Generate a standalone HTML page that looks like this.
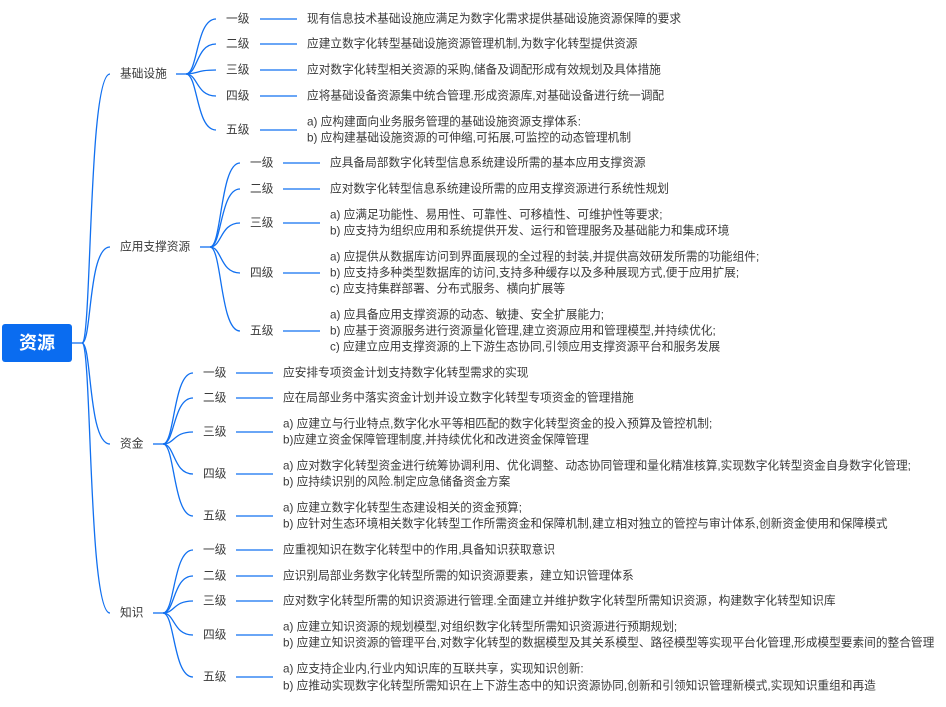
<!DOCTYPE html>
<html><head><meta charset="utf-8"><style>
html,body{margin:0;padding:0;background:#fff;}
svg{display:block;}
text{font-family:"Liberation Sans","Noto Sans CJK SC",sans-serif;font-size:11.7px;fill:#3a3a3a;dominant-baseline:central;}
.c{fill:none;stroke:#1170f0;stroke-width:1.3;}
</style></head><body>
<svg width="946" height="707" viewBox="0 0 946 707" xmlns="http://www.w3.org/2000/svg">
<rect x="2" y="324" width="70" height="38" rx="3" fill="#0a6cf0"/>
<text x="37" y="343" text-anchor="middle" style="fill:#fff;font-size:18px;font-weight:bold">资源</text>
<path class="c" d="M72 343H82"/>
<path class="c" d="M82 343C92 343 88 74 110 74"/>
<path class="c" d="M82 343C92 343 88 247 110 247"/>
<path class="c" d="M82 343C92 343 88 444 110 444"/>
<path class="c" d="M82 343C92 343 88 613 110 613"/>

<text x="120" y="74">基础设施</text>
<path class="c" d="M176 74H186"/>
<g class="c">
<path d="M186 74C198 74 196 19 216 19"/>
<path d="M186 74C198 74 196 44 216 44"/>
<path d="M186 74C198 74 196 70 216 70"/>
<path d="M186 74C198 74 196 96 216 96"/>
<path d="M186 74C198 74 196 130 216 130"/>
<path d="M260 19H297M260 44H297M260 70H297M260 96H297M260 130H297"/>
</g>
<text x="226" y="19">一级</text><text x="226" y="44">二级</text><text x="226" y="70">三级</text><text x="226" y="96">四级</text><text x="226" y="130">五级</text>
<text x="307" y="19">现有信息技术基础设施应满足为数字化需求提供基础设施资源保障的要求</text>
<text x="307" y="44">应建立数字化转型基础设施资源管理机制,为数字化转型提供资源</text>
<text x="307" y="70">应对数字化转型相关资源的采购,储备及调配形成有效规划及具体措施</text>
<text x="307" y="96">应将基础设备资源集中统合管理.形成资源库,对基础设备进行统一调配</text>
<text x="307" y="122">a) 应构建面向业务服务管理的基础设施资源支撑体系:</text>
<text x="307" y="138">b) 应构建基础设施资源的可伸缩,可拓展,可监控的动态管理机制</text>

<text x="120" y="247">应用支撑资源</text>
<path class="c" d="M200 247H210"/>
<g class="c">
<path d="M210 247C222 247 220 163 240 163"/>
<path d="M210 247C222 247 220 189 240 189"/>
<path d="M210 247C222 247 220 223 240 223"/>
<path d="M210 247C222 247 220 273 240 273"/>
<path d="M210 247C222 247 220 331 240 331"/>
<path d="M283 163H320M283 189H320M283 223H320M283 273H320M283 331H320"/>
</g>
<text x="250" y="163">一级</text><text x="250" y="189">二级</text><text x="250" y="223">三级</text><text x="250" y="273">四级</text><text x="250" y="331">五级</text>
<text x="330" y="163">应具备局部数字化转型信息系统建设所需的基本应用支撑资源</text>
<text x="330" y="189">应对数字化转型信息系统建设所需的应用支撑资源进行系统性规划</text>
<text x="330" y="215">a) 应满足功能性、易用性、可靠性、可移植性、可维护性等要求;</text>
<text x="330" y="231">b) 应支持为组织应用和系统提供开发、运行和管理服务及基础能力和集成环境</text>
<text x="330" y="257">a) 应提供从数据库访问到界面展现的全过程的封装,并提供高效研发所需的功能组件;</text>
<text x="330" y="273">b) 应支持多种类型数据库的访问,支持多种缓存以及多种展现方式,便于应用扩展;</text>
<text x="330" y="289">c) 应支持集群部署、分布式服务、横向扩展等</text>
<text x="330" y="315">a) 应具备应用支撑资源的动态、敏捷、安全扩展能力;</text>
<text x="330" y="331">b) 应基于资源服务进行资源量化管理,建立资源应用和管理模型,并持续优化;</text>
<text x="330" y="347">c) 应建立应用支撑资源的上下游生态协同,引领应用支撑资源平台和服务发展</text>

<text x="120" y="444">资金</text>
<path class="c" d="M153 444H163"/>
<g class="c">
<path d="M163 444C175 444 173 373 193 373"/>
<path d="M163 444C175 444 173 398 193 398"/>
<path d="M163 444C175 444 173 432 193 432"/>
<path d="M163 444C175 444 173 474 193 474"/>
<path d="M163 444C175 444 173 516 193 516"/>
<path d="M236 373H273M236 398H273M236 432H273M236 474H273M236 516H273"/>
</g>
<text x="203" y="373">一级</text><text x="203" y="398">二级</text><text x="203" y="432">三级</text><text x="203" y="474">四级</text><text x="203" y="516">五级</text>
<text x="283" y="373">应安排专项资金计划支持数字化转型需求的实现</text>
<text x="283" y="398">应在局部业务中落实资金计划并设立数字化转型专项资金的管理措施</text>
<text x="283" y="424">a) 应建立与行业特点,数字化水平等相匹配的数字化转型资金的投入预算及管控机制;</text>
<text x="283" y="440">b)应建立资金保障管理制度,并持续优化和改进资金保障管理</text>
<text x="283" y="466">a) 应对数字化转型资金进行统筹协调利用、优化调整、动态协同管理和量化精准核算,实现数字化转型资金自身数字化管理;</text>
<text x="283" y="482">b) 应持续识别的风险.制定应急储备资金方案</text>
<text x="283" y="508">a) 应建立数字化转型生态建设相关的资金预算;</text>
<text x="283" y="524">b) 应针对生态环境相关数字化转型工作所需资金和保障机制,建立相对独立的管控与审计体系,创新资金使用和保障模式</text>

<text x="120" y="613">知识</text>
<path class="c" d="M153 613H163"/>
<g class="c">
<path d="M163 613C175 613 173 550 193 550"/>
<path d="M163 613C175 613 173 576 193 576"/>
<path d="M163 613C175 613 173 601 193 601"/>
<path d="M163 613C175 613 173 635 193 635"/>
<path d="M163 613C175 613 173 677 193 677"/>
<path d="M236 550H273M236 576H273M236 601H273M236 635H273M236 677H273"/>
</g>
<text x="203" y="550">一级</text><text x="203" y="576">二级</text><text x="203" y="601">三级</text><text x="203" y="635">四级</text><text x="203" y="677">五级</text>
<text x="283" y="550">应重视知识在数字化转型中的作用,具备知识获取意识</text>
<text x="283" y="576">应识别局部业务数字化转型所需的知识资源要素，建立知识管理体系</text>
<text x="283" y="601">应对数字化转型所需的知识资源进行管理.全面建立并维护数字化转型所需知识资源，构建数字化转型知识库</text>
<text x="283" y="627">a) 应建立知识资源的规划模型,对组织数字化转型所需知识资源进行预期规划;</text>
<text x="283" y="643">b) 应建立知识资源的管理平台,对数字化转型的数据模型及其关系模型、路径模型等实现平台化管理,形成模型要素间的整合管理</text>
<text x="283" y="669">a) 应支持企业内,行业内知识库的互联共享，实现知识创新:</text>
<text x="283" y="686">b) 应推动实现数字化转型所需知识在上下游生态中的知识资源协同,创新和引领知识管理新模式,实现知识重组和再造</text>
</svg>
</body></html>
